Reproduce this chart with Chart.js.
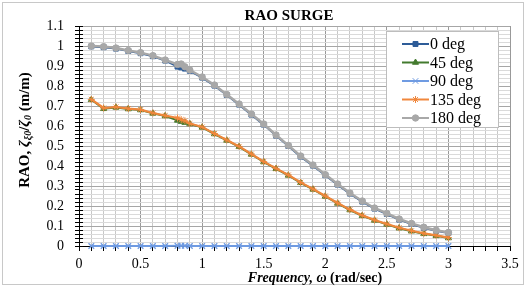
<!DOCTYPE html>
<html><head><meta charset="utf-8">
<script src="https://cdn.jsdelivr.net/npm/chart.js@4/dist/chart.umd.min.js"></script>
<style>html,body{margin:0;padding:0;background:#fff;overflow:hidden}
#wrap{position:relative;width:527px;height:289px}</style></head>
<body><div id="wrap"><canvas id="c" width="527" height="289"></canvas></div>
<script>
// ---- data ----
const frequencies = [0.1,0.2,0.3,0.4,0.5,0.6,0.7,0.8,0.83,0.86,0.9,1.0,1.1,1.2,1.3,1.4,1.5,1.6,1.7,1.8,1.9,2.0,2.1,2.2,2.3,2.4,2.5,2.6,2.7,2.8,2.9,3.0];
const rao0deg   = [0.998,0.994,0.987,0.975,0.964,0.949,0.927,0.897,0.893,0.887,0.876,0.842,0.802,0.755,0.707,0.657,0.607,0.552,0.500,0.447,0.402,0.354,0.307,0.262,0.222,0.187,0.160,0.132,0.110,0.091,0.076,0.065];
const rao45deg  = [0.731,0.686,0.693,0.685,0.680,0.663,0.650,0.628,0.622,0.617,0.610,0.593,0.560,0.528,0.496,0.458,0.420,0.386,0.353,0.316,0.283,0.248,0.213,0.180,0.151,0.128,0.108,0.089,0.074,0.061,0.051,0.040];
const rao90deg  = [0,0,0,0,0,0,0,0.001,0.001,0.001,0,0,0,0,0,0,0,0,0,0,0,0,0,0,0,0,0,0,0,0,0,0];
const rao135deg = [0.733,0.690,0.695,0.687,0.682,0.665,0.652,0.640,0.632,0.626,0.612,0.595,0.562,0.530,0.498,0.460,0.422,0.388,0.355,0.318,0.285,0.250,0.215,0.182,0.153,0.130,0.110,0.091,0.076,0.063,0.053,0.042];
const rao180deg = [1.000,0.997,0.990,0.978,0.967,0.952,0.930,0.908,0.910,0.896,0.880,0.845,0.805,0.758,0.710,0.660,0.610,0.555,0.503,0.450,0.405,0.357,0.310,0.265,0.225,0.190,0.163,0.135,0.113,0.094,0.079,0.068];
const seriesNames = ['0 deg','45 deg','90 deg','135 deg','180 deg'];
const xMajorTicks = [0,0.5,1,1.5,2,2.5,3,3.5];
const yMajorTicks = [0,0.1,0.2,0.3,0.4,0.5,0.6,0.7,0.8,0.9,1,1.1];

const colors = ['#2E5C98','#437A2E','#6F9BE2','#F0873C','#A8A8A8'];
const shapes = ['rect','triangle','crossRot','star','circle'];
const radii  = [3.5,3.5,4,3.5,3.2];
const lineWidths = [2,2,2,2.2,2.5];
const seriesValues = [rao0deg,rao45deg,rao90deg,rao135deg,rao180deg];
const drawOrder = [4,3,2,1,0];
const SERIF = '"Liberation Serif","Times New Roman",serif';

const isMajor = (v, list) => list.some(t => Math.abs(t - v) < 1e-6);

const datasets = seriesNames.map((name, i) => ({
  label: name,
  data: frequencies.map((f, k) => ({x: f, y: seriesValues[i][k]})),
  borderColor: colors[i],
  backgroundColor: colors[i],
  pointBackgroundColor: colors[i],
  pointBorderColor: colors[i],
  pointStyle: shapes[i],
  pointRadius: radii[i],
  pointBorderWidth: i === 2 ? 1.3 : 1,
  borderWidth: lineWidths[i],
  tension: 0,
  clip: false,
  order: drawOrder[i]
}));

const decor = {
  id: 'decor',
  beforeDraw(chart) {
    const ctx = chart.ctx;
    ctx.save();
    ctx.fillStyle = '#fff';
    ctx.fillRect(0, 0, chart.width, chart.height);
    ctx.restore();
  },
  afterDraw(chart) {
    const ctx = chart.ctx;
    const ys = chart.scales.y;
    const ca = chart.chartArea;
    ctx.save();
    // outer frame
    ctx.strokeStyle = '#C8C8C8';
    ctx.lineWidth = 1;
    ctx.strokeRect(2.5, 2.5, 521, 282);
    // inner tick marks
    ctx.strokeStyle = '#000';
    ctx.beginPath();
    ys.ticks.forEach(t => {
      const y = Math.round(ys.getPixelForValue(t.value)) + 0.5;
      ctx.moveTo(ca.left, y); ctx.lineTo(ca.left + 4, y);
    });
    ctx.stroke();
    // title
    ctx.fillStyle = '#000';
    ctx.textAlign = 'center';
    ctx.textBaseline = 'middle';
    ctx.font = 'bold 15px ' + SERIF;
    ctx.fillText('RAO SURGE', 289, 16);
    // x title
    const seg1 = 'Frequency, ω', seg2 = ' (rad/sec)';
    ctx.font = 'italic bold 14px ' + SERIF;
    const w1 = ctx.measureText(seg1).width;
    ctx.font = 'bold 14px ' + SERIF;
    const w2 = ctx.measureText(seg2).width;
    let x0 = 315 - (w1 + w2) / 2;
    ctx.textAlign = 'left';
    ctx.font = 'italic bold 14px ' + SERIF;
    ctx.fillText(seg1, x0, 278);
    ctx.font = 'bold 14px ' + SERIF;
    ctx.fillText(seg2, x0 + w1, 278);
    // y title (rotated)
    const parts = [
      ['RAO, ', 'bold 15px', 0],
      ['ζ', 'italic bold 15px', 0],
      ['ξ0', 'italic bold 10px', 3],
      ['/', 'bold 15px', 0],
      ['ζ', 'italic bold 15px', 0],
      ['0', 'italic bold 10px', 3],
      [' (m/m)', 'bold 15px', 0]
    ];
    let tw = 0;
    parts.forEach(p => { ctx.font = p[1] + ' ' + SERIF; p.push(ctx.measureText(p[0]).width); tw += p[3]; });
    ctx.translate(25, 130);
    ctx.rotate(-Math.PI / 2);
    let px = -tw / 2;
    parts.forEach(p => {
      ctx.font = p[1] + ' ' + SERIF;
      ctx.fillText(p[0], px, p[2]);
      px += p[3];
    });
    ctx.restore();
    // legend
    ctx.save();
    const lx = 386, ly = 31, lw = 112, lh = 96;
    ctx.fillStyle = '#fff';
    ctx.fillRect(lx, ly, lw, lh);
    ctx.strokeStyle = '#BDBDBD';
    ctx.lineWidth = 1;
    ctx.strokeRect(lx + 0.5, ly + 0.5, lw, lh);
    ctx.font = '16px ' + SERIF;
    ctx.textBaseline = 'middle';
    ctx.textAlign = 'left';
    seriesNames.forEach((name, i) => {
      const y = 44 + i * 18.5;
      ctx.strokeStyle = colors[i];
      ctx.lineWidth = 2;
      ctx.beginPath();
      ctx.moveTo(402, y); ctx.lineTo(429, y);
      ctx.stroke();
      ctx.fillStyle = colors[i];
      ctx.strokeStyle = colors[i];
      ctx.lineWidth = 1;
      Chart.helpers.drawPoint(ctx, {pointStyle: shapes[i], radius: radii[i], rotation: 0, borderWidth: 1}, 415.5, y);
      ctx.fillStyle = '#000';
      ctx.fillText(name, 430, y + 1);
    });
    ctx.restore();
  }
};

new Chart(document.getElementById('c'), {
  type: 'line',
  data: { datasets },
  options: {
    responsive: false,
    animation: false,
    devicePixelRatio: 1,
    layout: { padding: { left: 30, right: 17, top: 26, bottom: 0 } },
    plugins: { legend: { display: false }, title: { display: false }, tooltip: { enabled: false } },
    scales: {
      x: {
        type: 'linear', min: 0, max: 3.5,
        ticks: {
          stepSize: 0.1, autoSkip: false, maxRotation: 0, padding: 5,
          color: '#000', font: { family: SERIF, size: 14 },
          callback: v => isMajor(v, xMajorTicks) ? String(+v.toFixed(1)) : ''
        },
        grid: {
          color: c => isMajor(c.tick.value, xMajorTicks) ? '#999999' : '#C8C8C8',
          tickColor: '#000', tickLength: 5, drawTicks: true
        },
        border: { color: '#000', width: 1 },
        afterFit: s => { s.height = 43; }
      },
      y: {
        type: 'linear', min: 0, max: 1.1,
        ticks: {
          stepSize: 0.02, autoSkip: false, padding: 11,
          color: '#000', font: { family: SERIF, size: 14 },
          callback: v => isMajor(v, yMajorTicks) ? String(+v.toFixed(1)) : ''
        },
        grid: {
          color: c => isMajor(c.tick.value, yMajorTicks) ? '#A6A6A6' : '#DADADA',
          tickColor: '#000', tickLength: 4, drawTicks: true
        },
        border: { color: '#000', width: 1 },
        afterFit: s => { s.width = 49; }
      }
    }
  },
  plugins: [decor]
});
</script></body></html>
